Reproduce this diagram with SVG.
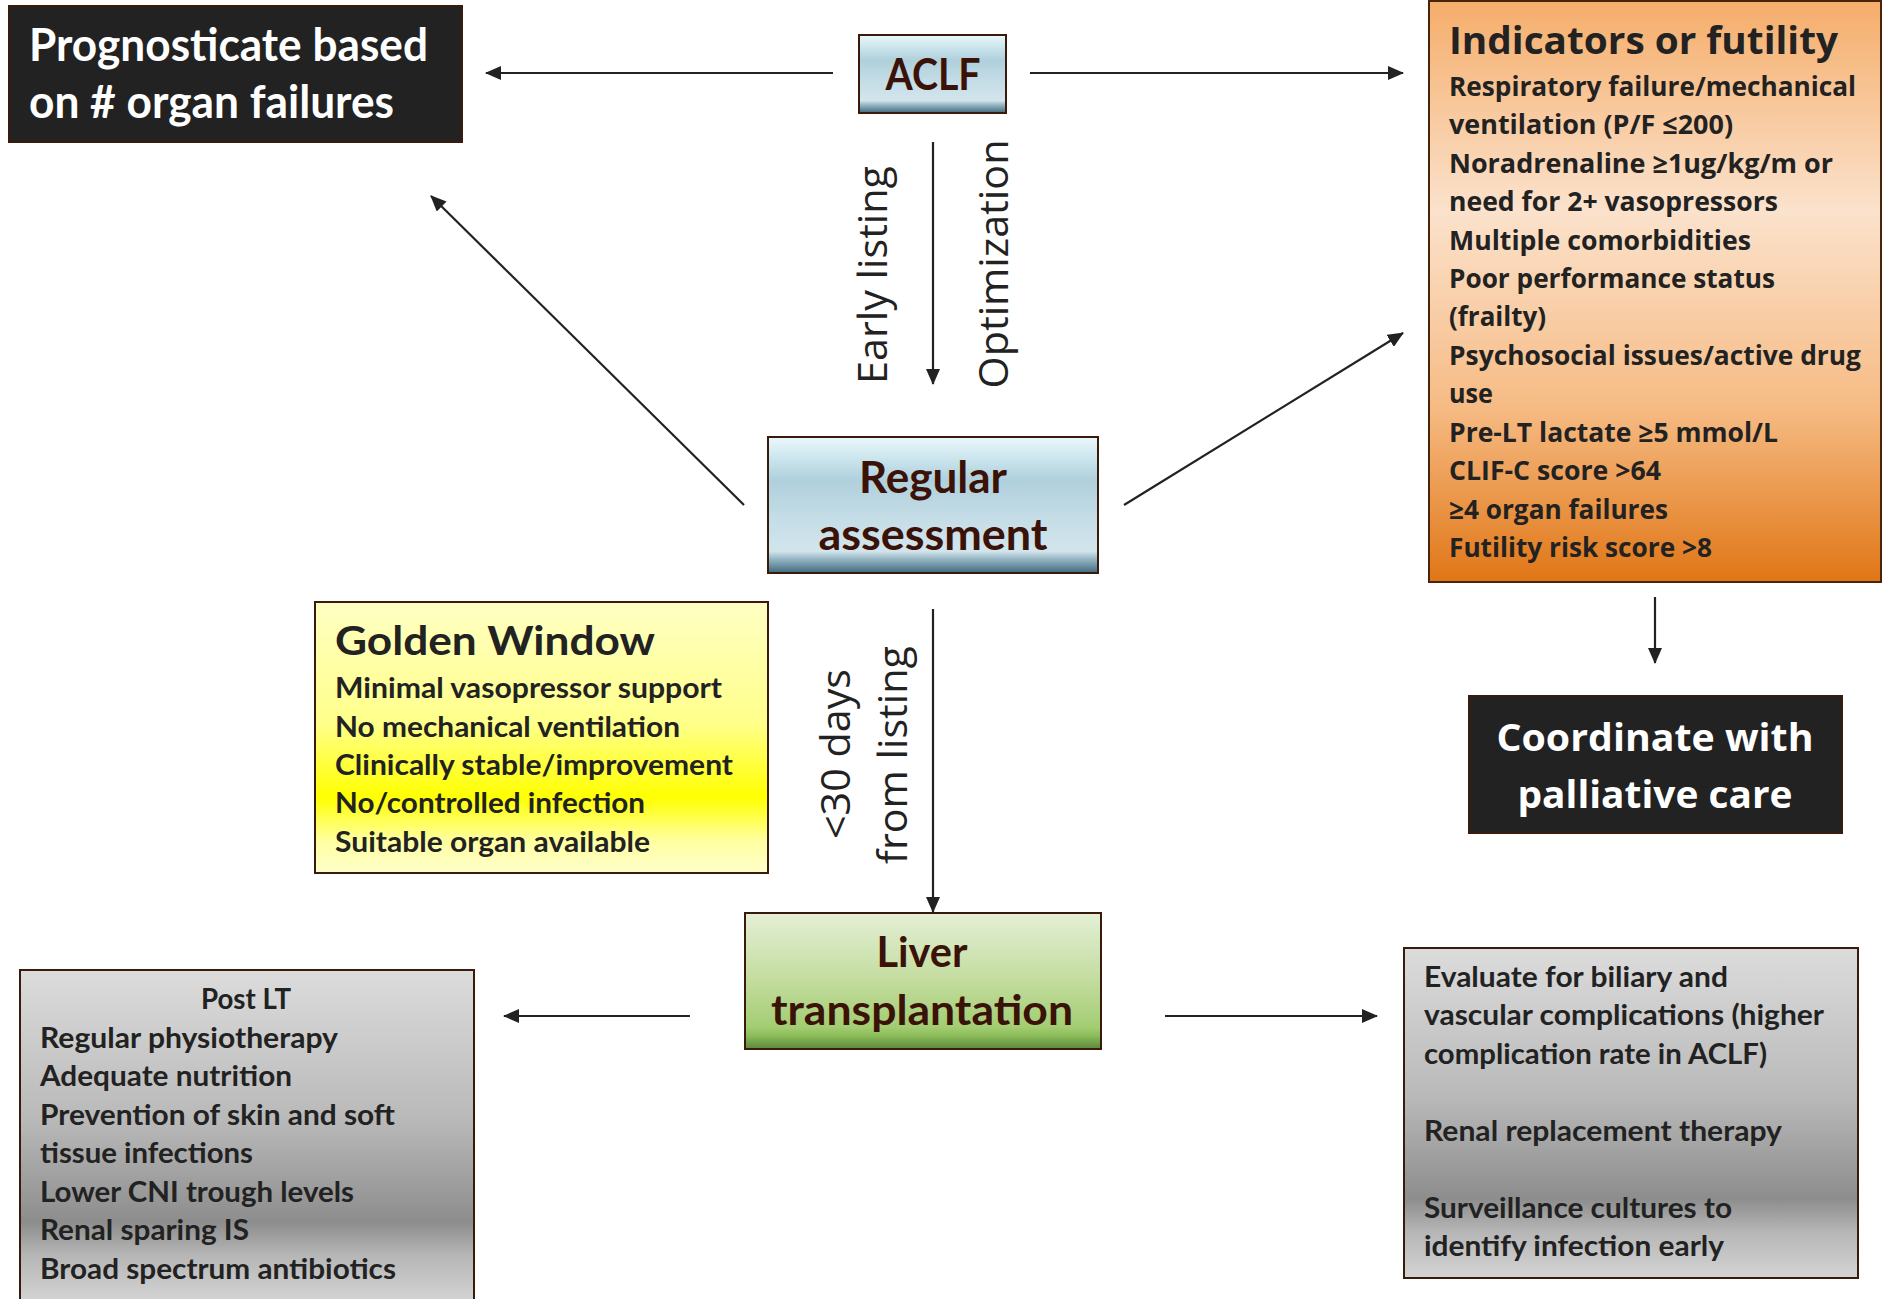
<svg xmlns="http://www.w3.org/2000/svg" width="1883" height="1299" viewBox="0 0 1883 1299">
<defs>
<style>
.cal{font-family:Lato,"Open Sans","Liberation Sans",sans-serif;font-weight:700}
.seg{font-family:"Open Sans","Noto Sans","Liberation Sans",sans-serif;font-weight:700}
.reg{font-family:"Open Sans","Noto Sans","Liberation Sans",sans-serif;font-weight:400;fill:#222}
.dk{fill:#222}
.br{fill:#3a1208}
.wh{fill:#fff}
.box{stroke:#3a1a0a;stroke-width:2}
.conn{stroke:#222;stroke-width:2.2;fill:none;marker-end:url(#ah)}
</style>
<marker id="ah" markerUnits="userSpaceOnUse" markerWidth="16" markerHeight="14" viewBox="0 0 16 14" refX="15" refY="7" orient="auto">
<path d="M0,0 L16,7 L0,14 z" fill="#222"/>
</marker>
<linearGradient id="gBlue" x1="0" y1="0" x2="0" y2="1">
<stop offset="0" stop-color="#eaf8fb"/>
<stop offset="0.15" stop-color="#cde6ee"/>
<stop offset="0.32" stop-color="#afd0dc"/>
<stop offset="0.6" stop-color="#c5dde7"/>
<stop offset="0.84" stop-color="#d2e5ec"/>
<stop offset="0.9" stop-color="#93b3c2"/>
<stop offset="1" stop-color="#3f6a7e"/>
</linearGradient>
<linearGradient id="gGreen" x1="0" y1="0" x2="0" y2="1">
<stop offset="0" stop-color="#e4efd6"/>
<stop offset="0.5" stop-color="#c3dc9e"/>
<stop offset="0.84" stop-color="#a2cd72"/>
<stop offset="0.9" stop-color="#8dbd5a"/>
<stop offset="1" stop-color="#5c873a"/>
</linearGradient>
<linearGradient id="gYellow" x1="0" y1="0" x2="0" y2="1">
<stop offset="0" stop-color="#ffffc4"/>
<stop offset="0.45" stop-color="#ffff8a"/>
<stop offset="0.72" stop-color="#ffff00"/>
<stop offset="0.88" stop-color="#ffffa0"/>
<stop offset="1" stop-color="#ffffcc"/>
</linearGradient>
<linearGradient id="gOrange" x1="0" y1="0" x2="0" y2="1">
<stop offset="0" stop-color="#f5ad6a"/>
<stop offset="0.36" stop-color="#fbe2cc"/>
<stop offset="0.7" stop-color="#f6bb84"/>
<stop offset="1" stop-color="#e07616"/>
</linearGradient>
<linearGradient id="gGray" x1="0" y1="0" x2="0" y2="1">
<stop offset="0" stop-color="#dcdcdc"/>
<stop offset="0.45" stop-color="#b9b9b9"/>
<stop offset="0.76" stop-color="#8d8d8d"/>
<stop offset="0.86" stop-color="#b6b6b6"/>
<stop offset="1" stop-color="#d4d4d4"/>
</linearGradient>
</defs>
<rect width="1883" height="1299" fill="#fff"/>

<g id="connectors">
<line class="conn" x1="833" y1="73" x2="486" y2="73"/>
<line class="conn" x1="1030" y1="73" x2="1403" y2="73"/>
<line class="conn" x1="933" y1="142" x2="933" y2="384"/>
<line class="conn" x1="744" y1="505" x2="431" y2="196"/>
<line class="conn" x1="1124" y1="505" x2="1403" y2="333"/>
<line class="conn" x1="1655" y1="597" x2="1655" y2="663"/>
<line class="conn" x1="933" y1="609" x2="933" y2="912"/>
<line class="conn" x1="690" y1="1016" x2="504" y2="1016"/>
<line class="conn" x1="1165" y1="1016" x2="1377" y2="1016"/>
<text class="reg" font-size="41" transform="translate(887,275) rotate(-90)" text-anchor="middle" textLength="218" lengthAdjust="spacingAndGlyphs">Early listing</text>
<text class="reg" font-size="41" transform="translate(1008,264) rotate(-90)" text-anchor="middle" textLength="249" lengthAdjust="spacingAndGlyphs">Optimization</text>
<text class="reg" font-size="41" transform="translate(850,754) rotate(-90)" text-anchor="middle" textLength="170" lengthAdjust="spacingAndGlyphs">&lt;30 days</text>
<text class="reg" font-size="41" transform="translate(907,755) rotate(-90)" text-anchor="middle" textLength="218" lengthAdjust="spacingAndGlyphs">from listing</text>
</g>

<g id="prognosticate">
<rect class="box" x="9" y="6" width="453" height="136" fill="#222"/>
<text class="cal wh" font-size="46" x="29" y="61" textLength="399" lengthAdjust="spacingAndGlyphs">Prognosticate based</text>
<text class="cal wh" font-size="46" x="29" y="118" textLength="365" lengthAdjust="spacingAndGlyphs">on # organ failures</text>
</g>

<g id="aclf">
<rect class="box" x="859" y="35" width="147" height="78" fill="url(#gBlue)"/>
<text class="cal br" font-size="43" x="933" y="90" text-anchor="middle" textLength="95" lengthAdjust="spacingAndGlyphs">ACLF</text>
</g>

<g id="indicators">
<rect x="1429" y="1" width="452" height="581" fill="url(#gOrange)" stroke="#4a2408" stroke-width="2"/>
<g class="seg dk" font-size="26.5">
<text x="1449" y="54" font-size="38" textLength="389" lengthAdjust="spacingAndGlyphs">Indicators or futility</text>
<text x="1449" y="96" textLength="407" lengthAdjust="spacingAndGlyphs">Respiratory failure/mechanical</text>
<text x="1449" y="134" textLength="284" lengthAdjust="spacingAndGlyphs">ventilation (P/F ≤200)</text>
<text x="1449" y="173" textLength="384" lengthAdjust="spacingAndGlyphs">Noradrenaline ≥1ug/kg/m or</text>
<text x="1449" y="211" textLength="329" lengthAdjust="spacingAndGlyphs">need for 2+ vasopressors</text>
<text x="1449" y="250" textLength="302" lengthAdjust="spacingAndGlyphs">Multiple comorbidities</text>
<text x="1449" y="288" textLength="326" lengthAdjust="spacingAndGlyphs">Poor performance status</text>
<text x="1449" y="326" textLength="97" lengthAdjust="spacingAndGlyphs">(frailty)</text>
<text x="1449" y="365" textLength="412" lengthAdjust="spacingAndGlyphs">Psychosocial issues/active drug</text>
<text x="1449" y="403" textLength="44" lengthAdjust="spacingAndGlyphs">use</text>
<text x="1449" y="442" textLength="329" lengthAdjust="spacingAndGlyphs">Pre-LT lactate ≥5 mmol/L</text>
<text x="1449" y="480" textLength="212" lengthAdjust="spacingAndGlyphs">CLIF-C score &gt;64</text>
<text x="1449" y="519" textLength="219" lengthAdjust="spacingAndGlyphs">≥4 organ failures</text>
<text x="1449" y="557" textLength="263" lengthAdjust="spacingAndGlyphs">Futility risk score &gt;8</text>
</g>
</g>

<g id="regular-assessment">
<rect class="box" x="768" y="437" width="330" height="136" fill="url(#gBlue)"/>
<text class="cal br" font-size="44" x="933" y="493" text-anchor="middle" textLength="148" lengthAdjust="spacingAndGlyphs">Regular</text>
<text class="cal br" font-size="44" x="933" y="550" text-anchor="middle" textLength="229" lengthAdjust="spacingAndGlyphs">assessment</text>
</g>

<g id="coordinate">
<rect class="box" x="1469" y="696" width="373" height="137" fill="#222"/>
<text class="seg wh" font-size="38" x="1655" y="751" text-anchor="middle" textLength="317" lengthAdjust="spacingAndGlyphs">Coordinate with</text>
<text class="seg wh" font-size="38" x="1655" y="808" text-anchor="middle" textLength="275" lengthAdjust="spacingAndGlyphs">palliative care</text>
</g>

<g id="golden-window">
<rect class="box" x="315" y="602" width="453" height="271" fill="url(#gYellow)"/>
<g class="cal dk" font-size="28">
<text x="335" y="655" font-size="40" textLength="320" lengthAdjust="spacingAndGlyphs">Golden Window</text>
<text x="335" y="698" textLength="387" lengthAdjust="spacingAndGlyphs">Minimal vasopressor support</text>
<text x="335" y="737" textLength="345" lengthAdjust="spacingAndGlyphs">No mechanical ventilation</text>
<text x="335" y="775" textLength="398" lengthAdjust="spacingAndGlyphs">Clinically stable/improvement</text>
<text x="335" y="813" textLength="310" lengthAdjust="spacingAndGlyphs">No/controlled infection</text>
<text x="335" y="852" textLength="315" lengthAdjust="spacingAndGlyphs">Suitable organ available</text>
</g>
</g>

<g id="liver-transplantation">
<rect class="box" x="745" y="913" width="356" height="136" fill="url(#gGreen)"/>
<text class="cal br" font-size="42" x="922" y="967" text-anchor="middle" textLength="91" lengthAdjust="spacingAndGlyphs">Liver</text>
<text class="cal br" font-size="42" x="922" y="1025" text-anchor="middle" textLength="302" lengthAdjust="spacingAndGlyphs">transplantation</text>
</g>

<g id="post-lt">
<rect class="box" x="20" y="970" width="454" height="332" fill="url(#gGray)"/>
<g class="cal dk" font-size="29">
<text x="246" y="1009" text-anchor="middle" textLength="90" lengthAdjust="spacingAndGlyphs">Post LT</text>
<text x="40" y="1048" textLength="298" lengthAdjust="spacingAndGlyphs">Regular physiotherapy</text>
<text x="40" y="1086" textLength="252" lengthAdjust="spacingAndGlyphs">Adequate nutrition</text>
<text x="40" y="1125" textLength="355" lengthAdjust="spacingAndGlyphs">Prevention of skin and soft</text>
<text x="40" y="1163" textLength="213" lengthAdjust="spacingAndGlyphs">tissue infections</text>
<text x="40" y="1202" textLength="314" lengthAdjust="spacingAndGlyphs">Lower CNI trough levels</text>
<text x="40" y="1240" textLength="209" lengthAdjust="spacingAndGlyphs">Renal sparing IS</text>
<text x="40" y="1279" textLength="356" lengthAdjust="spacingAndGlyphs">Broad spectrum antibiotics</text>
</g>
</g>

<g id="post-lt-complications">
<rect class="box" x="1404" y="948" width="454" height="330" fill="url(#gGray)"/>
<g class="cal dk" font-size="29">
<text x="1424" y="987" textLength="304" lengthAdjust="spacingAndGlyphs">Evaluate for biliary and</text>
<text x="1424" y="1025" textLength="400" lengthAdjust="spacingAndGlyphs">vascular complications (higher</text>
<text x="1424" y="1064" textLength="343" lengthAdjust="spacingAndGlyphs">complication rate in ACLF)</text>
<text x="1424" y="1141" textLength="358" lengthAdjust="spacingAndGlyphs">Renal replacement therapy</text>
<text x="1424" y="1218" textLength="308" lengthAdjust="spacingAndGlyphs">Surveillance cultures to</text>
<text x="1424" y="1256" textLength="300" lengthAdjust="spacingAndGlyphs">identify infection early</text>
</g>
</g>
</svg>
